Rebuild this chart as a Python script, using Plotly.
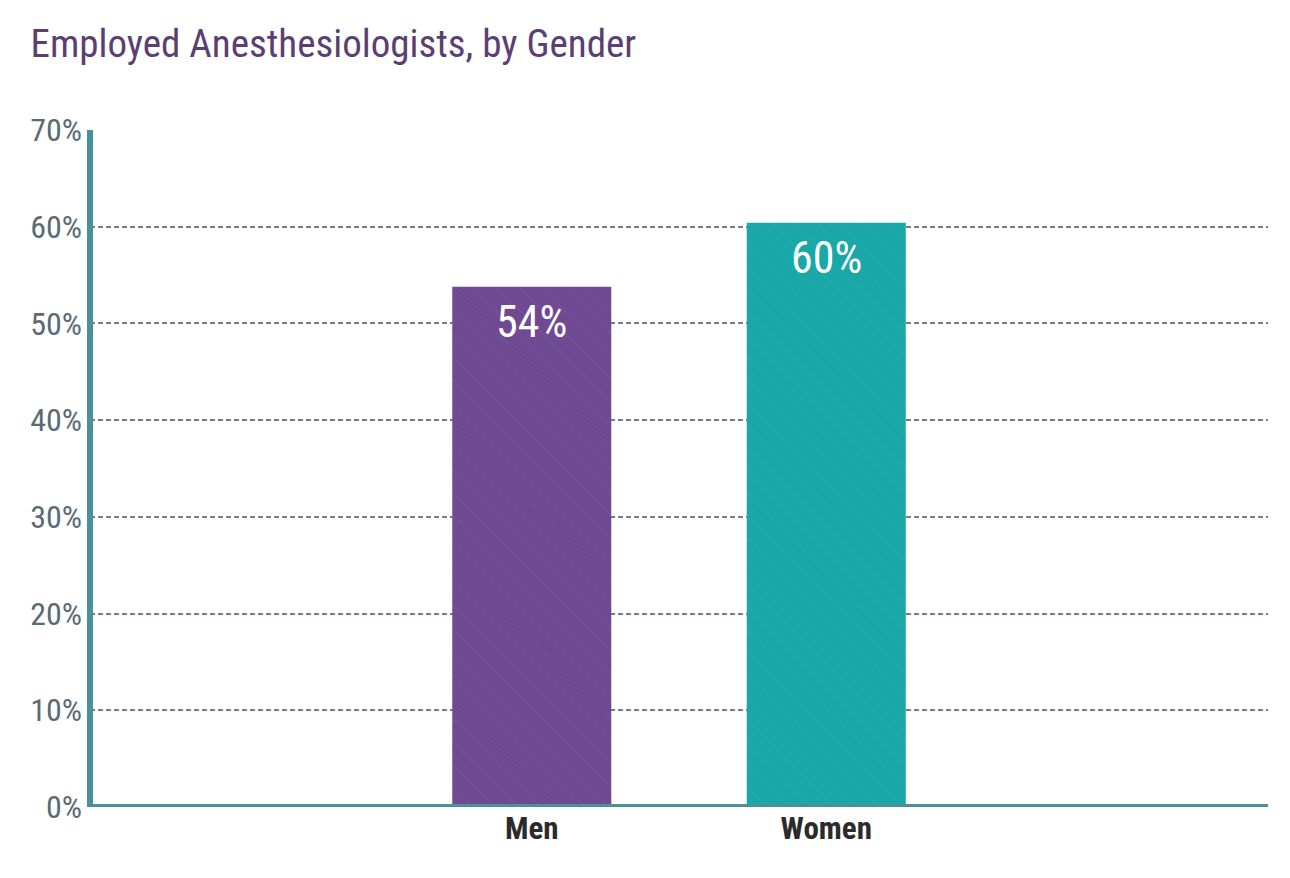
import plotly.graph_objects as go

categories = ["Men", "Women"]
values = [53.8, 60.4]
bar_colors = ["#6f4a92", "#19a7a8"]
tick_vals = [0, 10, 20, 30, 40, 50, 60, 70]
tick_text = ["0%", "10%", "20%", "30%", "40%", "50%", "60%", "70%"]
title_text = "Employed Anesthesiologists, by Gender"

COND = "Roboto Condensed, Liberation Sans Narrow, DejaVu Sans Condensed, Roboto, sans-serif"

fig = go.Figure()
fig.add_trace(go.Bar(
    x=categories, y=values, width=0.54,
    marker=dict(color=bar_colors, line=dict(width=0),
                pattern=dict(shape="\\", fgcolor="#ffffff", fgopacity=0.08, size=16, solidity=0.06)),
    hoverinfo="skip",
))
for c, v in zip(categories, values):
    fig.add_annotation(x=c, y=v, text=f"{round(v)}%", showarrow=False, yanchor="top", yshift=-7,
                       font=dict(family=COND, size=44, color="#ffffff"))

fig.update_layout(
    width=1290, height=878,
    margin=dict(l=82, r=30, t=122, b=79),
    paper_bgcolor="white", plot_bgcolor="white",
    showlegend=False,
    title=dict(text=title_text, x=0.0175, xanchor="left", y=0.96, yanchor="middle",
               font=dict(family=COND, size=39, color="#5b3f73")),
    xaxis=dict(range=[-1.5, 2.5], showgrid=False, zeroline=False, showline=False,
               ticks="", tickfont=dict(family=COND, size=31, color="#2b2b2b", weight="bold"),
               fixedrange=True),
    yaxis=dict(range=[0, 70], tickvals=tick_vals, ticktext=tick_text, showgrid=True,
               gridcolor="#6f7f87", griddash="5px,3px", gridwidth=1.6, zeroline=False, showline=False,
               ticks="", ticklabelstandoff=7,
               tickfont=dict(family=COND, size=32, color="#5b6b74"), fixedrange=True),
)
fig.add_shape(type="line", xref="paper", yref="y", x0=0, x1=1, y0=0, y1=0,
              line=dict(color="#4a919b", width=6), layer="above")
fig.add_shape(type="line", xref="paper", yref="y", x0=0, x1=0, y0=0, y1=70,
              line=dict(color="#4a919b", width=6), layer="above")
fig.write_html("out.html", config={"displayModeBar": False})
